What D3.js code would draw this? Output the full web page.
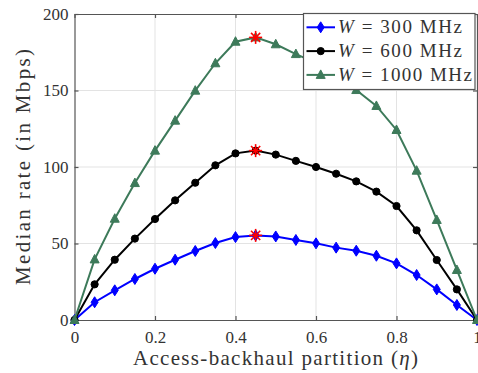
<!DOCTYPE html>
<html><head><meta charset="utf-8">
<script src="https://cdn.jsdelivr.net/npm/d3@7"></script>
<style>body{margin:0;background:#fff}svg{display:block}text{font-family:"Liberation Serif","DejaVu Serif",serif}</style>
</head><body><svg id="c" width="478" height="373"></svg>
<script>
const eta = [0,0.05,0.1,0.15,0.2,0.25,0.3,0.35,0.4,0.45,0.5,0.55,0.6,0.65,0.7,0.75,0.8,0.85,0.9,0.95,1];
const w300 = [0,11.6,19.4,26.8,33.5,39.4,45.1,50.3,54.2,55.3,54.6,52.3,50.1,47.3,45.3,42.0,37.0,29.4,20.0,9.8,0];
const w600 = [0,23.3,39.4,53.2,66.0,78.2,89.7,101.1,108.9,110.7,108.1,104.0,100.0,95.6,90.6,83.9,74.5,58.6,39.2,20.0,0];
const w1000 = [0,39.6,66.2,89.5,110.7,130.3,149.9,167.8,181.9,184.7,180.2,173.8,168.0,160.5,150.3,139.9,124.2,97.6,65.4,32.7,0];
const seriesNames = ["300","600","1000"];
const seriesColors = ["#0000ff","#000000","#3d7a5a"];
const seriesMarkers = ["diamond","circle","triangle"];
const optIdx = 9;
const xTicks = [0,0.2,0.4,0.6,0.8,1];
const xTickLabels = ["0","0.2","0.4","0.6","0.8","1"];
const yTicks = [0,50,100,150,200];

const svg = d3.select("#c");
const x = d3.scaleLinear().domain([0,1]).range([74.5,477]);
const y = d3.scaleLinear().domain([0,200]).range([320,14]);

// grid
svg.append("g").selectAll("line").data(xTicks.slice(1,-1)).join("line")
  .attr("x1",d=>x(d)).attr("x2",d=>x(d)).attr("y1",y(0)).attr("y2",y(200))
  .attr("stroke","#e3e3e3").attr("stroke-width",1);
svg.append("g").selectAll("line").data(yTicks.slice(1,-1)).join("line")
  .attr("y1",d=>y(d)).attr("y2",d=>y(d)).attr("x1",x(0)).attr("x2",x(1))
  .attr("stroke","#e3e3e3").attr("stroke-width",1);

// axes
const gx = svg.append("g").attr("transform",`translate(0,${y(0)})`)
  .call(d3.axisBottom(x).tickValues(xTicks).tickFormat((d,i)=>xTickLabels[i]).tickSizeInner(-4).tickSizeOuter(0).tickPadding(11));
const gy = svg.append("g").attr("transform",`translate(${x(0)},0)`)
  .call(d3.axisLeft(y).tickValues(yTicks).tickSizeInner(-4).tickSizeOuter(0).tickPadding(6));
const gt = svg.append("g").attr("transform",`translate(0,${y(200)})`)
  .call(d3.axisTop(x).tickValues(xTicks).tickFormat("").tickSizeInner(-4).tickSizeOuter(0));
const gr = svg.append("g").attr("transform",`translate(${x(1)},0)`)
  .call(d3.axisRight(y).tickValues(yTicks).tickFormat("").tickSizeInner(-4).tickSizeOuter(0));
[gx,gy,gt,gr].forEach(g=>{
  g.selectAll("path,line").attr("stroke","#555").attr("stroke-width",1.2);
  g.selectAll("text").attr("font-size",17).attr("fill","#333").attr("font-family","Liberation Serif, serif");
});

// axis titles
svg.append("text").attr("x",275.5).attr("y",365).attr("text-anchor","middle").attr("font-size",21).attr("fill","#333")
  .attr("textLength",285).attr("lengthAdjust","spacing")
  .html('Access-backhaul partition (<tspan font-style="italic">η</tspan>)');
svg.append("text").attr("transform","translate(30,167) rotate(-90)").attr("text-anchor","middle").attr("font-size",21).attr("fill","#333")
  .attr("textLength",236).attr("lengthAdjust","spacing")
  .text("Median rate (in Mbps)");

const data = [w300,w600,w1000];
function marker(g, type, cx, cy, color){
  if(type==="diamond"){
    g.append("path").attr("d",`M${cx},${cy-5.5}L${cx+3.5},${cy}L${cx},${cy+5.5}L${cx-3.5},${cy}Z`).attr("fill",color).attr("stroke",color);
  } else if(type==="circle"){
    g.append("circle").attr("cx",cx).attr("cy",cy).attr("r",3.6).attr("fill",color).attr("stroke",color);
  } else {
    g.append("path").attr("d",`M${cx},${cy-5}L${cx+4.5},${cy+3.5}L${cx-4.5},${cy+3.5}Z`).attr("fill",color).attr("stroke",color);
  }
}
const line = d3.line().x((d,i)=>x(eta[i])).y(d=>y(d));
data.forEach((vals,k)=>{
  const g = svg.append("g");
  g.append("path").attr("d",line(vals)).attr("fill","none").attr("stroke",seriesColors[k]).attr("stroke-width",2);
  vals.forEach((v,i)=>marker(g,seriesMarkers[k],x(eta[i]),y(v),seriesColors[k]));
});
// optimum stars
data.forEach(vals=>{
  const cx=x(eta[optIdx]), cy=y(vals[optIdx]);
  const g=svg.append("g").attr("stroke","#ff0000").attr("stroke-width",1.6);
  for(let a=0;a<4;a++){
    const ang=a*Math.PI/4, r=6.5;
    g.append("line").attr("x1",cx-r*Math.cos(ang)).attr("y1",cy-r*Math.sin(ang)).attr("x2",cx+r*Math.cos(ang)).attr("y2",cy+r*Math.sin(ang));
  }
});

// legend
const lg = svg.append("g");
lg.append("rect").attr("x",303.5).attr("y",13.5).attr("width",171.5).attr("height",76).attr("fill","#fff").attr("stroke","#555").attr("stroke-width",1.2);
const legLen = [124,124,134];
seriesNames.forEach((n,k)=>{
  const cy = 27.3 + k*23.8;
  lg.append("line").attr("x1",306.5).attr("x2",335).attr("y1",cy).attr("y2",cy).attr("stroke",seriesColors[k]).attr("stroke-width",2);
  marker(lg,seriesMarkers[k],320.7,cy,seriesColors[k]);
  lg.append("text").attr("x",338).attr("y",cy+6).attr("font-size",19).attr("fill","#333")
    .attr("textLength",legLen[k]).attr("lengthAdjust","spacing")
    .html(`<tspan font-style="italic">W</tspan> = ${n} MHz`);
});
</script></body></html>
